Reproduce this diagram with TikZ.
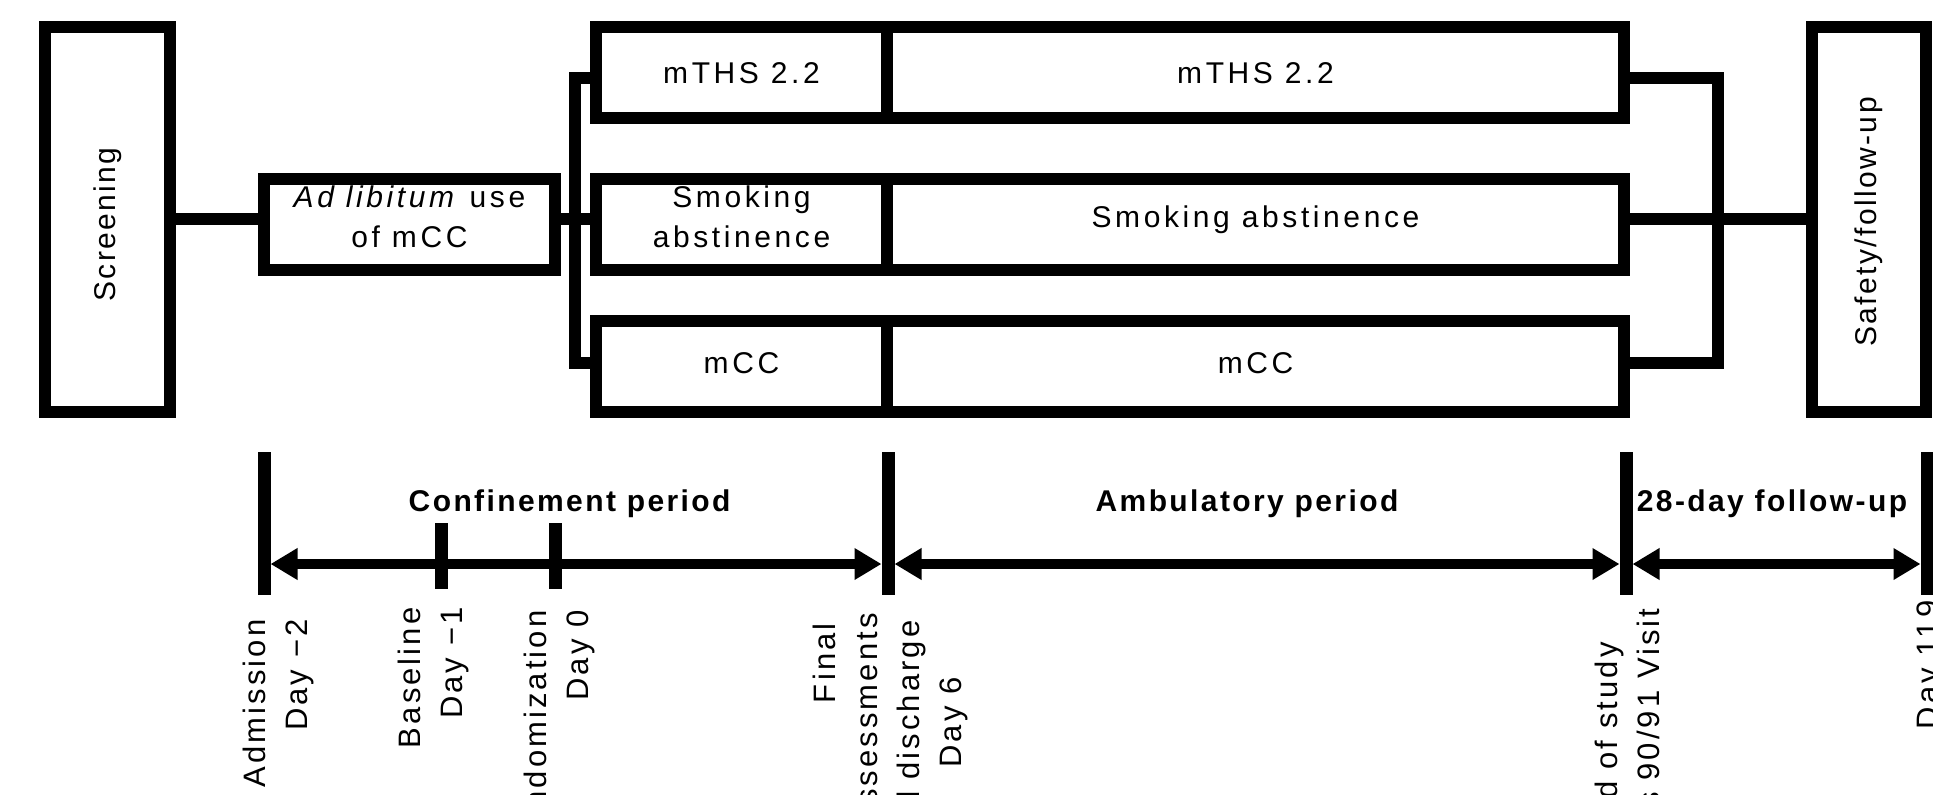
\documentclass[tikz,border=0pt]{standalone}
\usepackage{fontspec}
\setmainfont{Liberation Sans}[LetterSpace=10]
\newfontfamily\lblfont{Liberation Sans}[LetterSpace=8]
\newfontfamily\boxfont{Liberation Sans}[LetterSpace=12]
\newfontfamily\rotfont{Liberation Sans}[LetterSpace=8]
\usetikzlibrary{arrows.meta}
\begin{document}
\begin{tikzpicture}[x=0.5pt,y=-0.5pt,
  boxframe/.style={draw=black, line width=6pt, inner sep=0pt},
  boxtext/.style={align=center, inner sep=0pt, font=\boxfont\fontsize{15}{20}\selectfont},
  rottext/.style={inner sep=0pt, font=\rotfont\fontsize{15}{20}\selectfont},
  conn/.style={line width=6pt},
  tickmark/.style={fill=black, draw=none, inner sep=0pt, outer sep=0pt, minimum width=6.5pt},
  dimline/.style={line width=5pt,
    {Triangle[length=13.5pt,width=15pt]}-{Triangle[length=13.5pt,width=15pt]}},
  period/.style={font=\lblfont\bfseries\fontsize{15}{18}\selectfont, anchor=base, inner sep=0pt},
  when/.style={rotate=90, anchor=east, align=right, inner sep=0pt,
    font=\fontsize{15.5}{21}\selectfont}]
\useasboundingbox (0,0) rectangle (1933,794);
\clip (0,0) rectangle (1933,794);

% boxes
\node[boxframe, minimum width=62.5pt, minimum height=192.5pt] (scr) at (107.5,219.5) {};
\node[boxframe, minimum width=145.5pt, minimum height=45.5pt] (adl) at (409.5,224.5) {};
\node[boxframe, minimum width=145.5pt, minimum height=45.5pt] (t1) at (741.5,72.5) {};
\node[boxframe, minimum width=368.5pt, minimum height=45.5pt] (t2) at (1255.5,72.5) {};
\node[boxframe, minimum width=145.5pt, minimum height=45.5pt] (s1) at (741.5,224.5) {};
\node[boxframe, minimum width=368.5pt, minimum height=45.5pt] (s2) at (1255.5,224.5) {};
\node[boxframe, minimum width=145.5pt, minimum height=45.5pt] (c1) at (741.5,366.5) {};
\node[boxframe, minimum width=368.5pt, minimum height=45.5pt] (c2) at (1255.5,366.5) {};
\node[boxframe, minimum width=57pt, minimum height=192.5pt] (saf) at (1869,219.5) {};

% box texts
\node[rottext, rotate=90] (scrt) at ([yshift=-2.5pt]scr.center) {Screening};
\node[rottext, rotate=90] (saft) at ([yshift=-1.2pt]saf.center) {Safety/follow-up};
\node[boxtext] (adlt) at ([yshift=3.7pt]adl.center) {\textit{Ad libitum} use\\of mCC};
\node[boxtext] (t1t) at ([yshift=-0.5pt]t1.center) {mTHS 2.2};
\node[boxtext] (t2t) at ([yshift=-0.5pt]t2.center) {mTHS 2.2};
\node[boxtext] (s1t) at ([yshift=3.7pt]s1.center) {Smoking\\abstinence};
\node[boxtext] (s2t) at ([yshift=2.5pt]s2.center) {Smoking abstinence};
\node[boxtext] (c1t) at ([yshift=1.8pt]c1.center) {mCC};
\node[boxtext] (c2t) at ([yshift=1.8pt]c2.center) {mCC};

% connectors
\coordinate (ya) at (0,77.5);
\coordinate (ym) at (0,219);
\coordinate (yb) at (0,362.5);
\coordinate (sx) at (575,0);
\coordinate (mx) at (1718,0);
\draw[conn] (scr.east |- ym) -- (adl.west |- ym);
\draw[conn] (adl.east |- ym) -- (s1.west |- ym);
\draw[conn] (t1.west |- ya) -| (sx |- yb) -- (c1.west |- yb);
\draw[conn] (t2.east |- ya) -| (mx |- yb) -- (c2.east |- yb);
\draw[conn] (s2.east |- ym) -- (saf.west |- ym);

% timeline
\node[tickmark, minimum height=71.5pt] (k1) at (264,523.5) {};
\node[tickmark, minimum height=71.5pt] (k2) at (888,523.5) {};
\node[tickmark, minimum height=71.5pt] (k3) at (1626,523.5) {};
\node[tickmark, minimum height=71.5pt] (k4) at (1927,523.5) {};
\coordinate (ay) at (0,564);
\draw[dimline] (k1.east |- ay) -- (k2.west |- ay);
\draw[dimline] (k2.east |- ay) -- (k3.west |- ay);
\draw[dimline] (k3.east |- ay) -- (k4.west |- ay);
\node[tickmark, minimum height=33pt] (k5) at (441,556) {};
\node[tickmark, minimum height=33pt] (k6) at (555,556) {};

\node[period] (p1) at (569.6,511) {Confinement period};
\node[period] (p2) at (1247,511) {Ambulatory period};
\node[period] (p3) at (1772,511) {28-day follow-up};

\node[when] (l1) at (278,619) {Admission\\Day −2};
\node[when] (l2) at (433,607) {Baseline\\Day −1};
\node[when] (l3) at (559.5,610) {Randomization\\Day 0};
\node[when] (l4) at (890.5,613) {Final\kern5pt\\assessments\\and discharge\kern3.5pt\\Day 6\kern32pt};
\node[when] (l5) at (1630,608) {End of study\kern17pt\\Days 90/91 Visit};
\node[when] (l6) at (1931,600) {Day 119};
\end{tikzpicture}
\end{document}
